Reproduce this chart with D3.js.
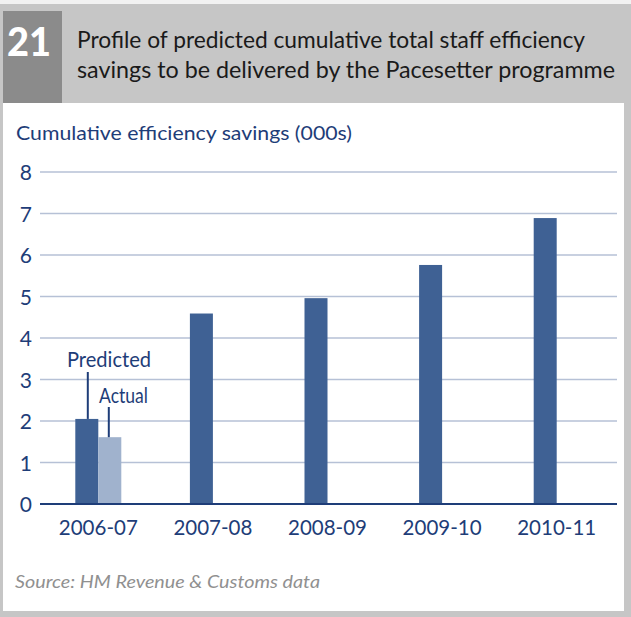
<!DOCTYPE html>
<html>
<head>
<meta charset="utf-8">
<script src="https://cdn.jsdelivr.net/npm/d3@7"></script>
<style>
  html, body { margin: 0; padding: 0; background: #ffffff; }
  svg { display: block; }
  text { font-family: Lato, "Open Sans", sans-serif; }
</style>
</head>
<body>
<svg id="chart" width="631" height="617"></svg>
<script>
// Pacesetter programme: cumulative staff efficiency savings (000s)
const years = ["2006-07", "2007-08", "2008-09", "2009-10", "2010-11"];
const predicted = [2.05, 4.59, 4.96, 5.76, 6.89];
const actual = [1.61, null, null, null, null];
const yTicks = [0, 1, 2, 3, 4, 5, 6, 7, 8];

const titleLines = [
  "Profile of predicted cumulative total staff efficiency",
  "savings to be delivered by the Pacesetter programme"
];
const figureNumber = "21";
const yTitle = "Cumulative efficiency savings (000s)";
const sourceNote = "Source: HM Revenue & Customs data";

const navy = "#1e3d78";
const predColor = "#3f6194";
const actColor = "#a0b2cd";
const gridColor = "#b6c1d6";

const svg = d3.select("#chart");

// frame: grey surround, header band, white panel
svg.append("rect").attr("width", 631).attr("height", 617).attr("fill", "#c6c6c6");
svg.append("rect").attr("width", 631).attr("height", 4).attr("fill", "#f2f2f2");
svg.append("rect").attr("x", 3).attr("y", 103).attr("width", 621).attr("height", 508).attr("fill", "#ffffff");
svg.append("rect").attr("x", 3).attr("y", 11).attr("width", 59).attr("height", 92).attr("fill", "#8b8b8b");

svg.append("text")
  .attr("x", 29).attr("y", 56)
  .attr("text-anchor", "middle")
  .attr("fill", "#ffffff")
  .attr("font-size", 39).attr("font-weight", 900)
  .attr("textLength", 44).attr("lengthAdjust", "spacingAndGlyphs")
  .text(figureNumber);

const widths = [508, 538];
titleLines.forEach((t, i) => {
  svg.append("text")
    .attr("x", 77).attr("y", 48 + i * 30)
    .attr("fill", "#1a1a1a")
    .attr("font-size", 23)
    .attr("textLength", widths[i]).attr("lengthAdjust", "spacingAndGlyphs")
    .text(t);
});

svg.append("text")
  .attr("x", 16).attr("y", 140)
  .attr("fill", navy).attr("font-size", 20)
  .attr("textLength", 336).attr("lengthAdjust", "spacingAndGlyphs")
  .text(yTitle);

// scales
const x = d3.scaleBand().domain(years).range([41, 614]).padding(0);
const y = d3.scaleLinear().domain([0, 8]).range([504, 172]);
const barW = 23;

// gridlines
svg.append("g").selectAll("line")
  .data(yTicks.filter(d => d > 0))
  .join("line")
  .attr("x1", 40).attr("x2", 617)
  .attr("y1", d => y(d)).attr("y2", d => y(d))
  .attr("stroke", gridColor).attr("stroke-width", 1.6);

// y axis labels
const yAxis = svg.append("g")
  .attr("transform", "translate(32,0)")
  .call(d3.axisLeft(y).tickValues(yTicks).tickSize(0).tickPadding(0).tickFormat(d3.format("d")));
yAxis.select(".domain").remove();
yAxis.selectAll("text")
  .attr("fill", navy).attr("font-size", 21)
  .attr("font-family", "Lato, sans-serif")
  .attr("dy", "0.36em");

// bars
const center = d => x(d) + x.bandwidth() / 2;
svg.append("g").selectAll("rect")
  .data(years.map((yr, i) => ({ yr, v: predicted[i] })))
  .join("rect")
  .attr("x", d => center(d.yr) - barW)
  .attr("y", d => y(d.v))
  .attr("width", barW)
  .attr("height", d => y(0) - y(d.v))
  .attr("fill", predColor);

svg.append("g").selectAll("rect")
  .data(years.map((yr, i) => ({ yr, v: actual[i] })).filter(d => d.v != null))
  .join("rect")
  .attr("x", d => center(d.yr))
  .attr("y", d => y(d.v))
  .attr("width", barW)
  .attr("height", d => y(0) - y(d.v))
  .attr("fill", actColor);

// baseline
svg.append("line")
  .attr("x1", 40).attr("x2", 617)
  .attr("y1", y(0)).attr("y2", y(0))
  .attr("stroke", navy).attr("stroke-width", 2);

// x axis labels
const xAxis = svg.append("g")
  .attr("transform", `translate(0,${y(0)})`)
  .call(d3.axisBottom(x).tickSize(0).tickPadding(0));
xAxis.select(".domain").remove();
xAxis.selectAll("text")
  .attr("fill", navy).attr("font-size", 21)
  .attr("font-family", "Lato, sans-serif")
  .attr("textLength", 79).attr("lengthAdjust", "spacingAndGlyphs")
  .attr("dy", "1.48em");

// series callouts
const first = years[0];
const predTopX = center(first) - barW / 2 + 1;
const actTopX = center(first) + barW / 2 - 1;
svg.append("line")
  .attr("x1", predTopX).attr("x2", predTopX)
  .attr("y1", 372).attr("y2", y(predicted[0]))
  .attr("stroke", navy).attr("stroke-width", 2);
svg.append("text")
  .attr("x", 67).attr("y", 367)
  .attr("fill", navy).attr("font-size", 21)
  .attr("textLength", 84).attr("lengthAdjust", "spacingAndGlyphs")
  .text("Predicted");
svg.append("line")
  .attr("x1", actTopX).attr("x2", actTopX)
  .attr("y1", 407).attr("y2", y(actual[0]))
  .attr("stroke", navy).attr("stroke-width", 2);
svg.append("text")
  .attr("x", 99).attr("y", 403)
  .attr("fill", navy).attr("font-size", 21)
  .attr("textLength", 49).attr("lengthAdjust", "spacingAndGlyphs")
  .text("Actual");

// source
svg.append("text")
  .attr("x", 15).attr("y", 588)
  .attr("fill", "#909090").attr("font-size", 17).attr("font-style", "italic")
  .attr("textLength", 305).attr("lengthAdjust", "spacingAndGlyphs")
  .text(sourceNote);
</script>
</body>
</html>
